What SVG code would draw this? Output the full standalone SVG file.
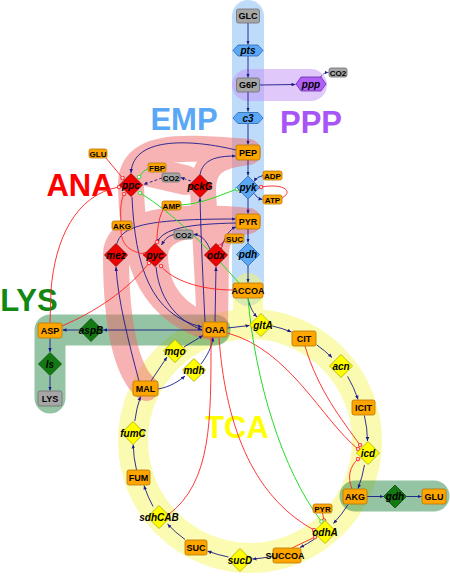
<svg xmlns="http://www.w3.org/2000/svg" width="450" height="576" viewBox="0 0 450 576">
<style>
.mb{fill:#ffa500;stroke:#b87700;stroke-width:0.8}
.gb{fill:#a6a6a6;stroke:#6e6e6e;stroke-width:0.8}
.mt{font-family:"Liberation Sans",Arial,sans-serif;font-weight:bold;font-size:9px;text-anchor:middle;fill:#000}
.st{font-size:8px}
.rt{font-family:"Liberation Sans",Arial,sans-serif;font-style:italic;font-weight:bold;font-size:10px;text-anchor:middle;fill:#000}
.rd{fill:#ee0000;stroke:#8a0000;stroke-width:0.8}
.bd{fill:#5aa8f6;stroke:#2c64b0;stroke-width:0.8}
.yd{fill:#ffff00;stroke:#a8a800;stroke-width:0.8}
.gd{fill:#137a13;stroke:#0a4a0a;stroke-width:0.8}
.pd{fill:#b060f6;stroke:#6a2aa8;stroke-width:0.8}
.lbl{font-family:"Liberation Sans",Arial,sans-serif;font-weight:bold;font-size:31px;text-anchor:middle}
.e{fill:none;stroke:#1a1a8a;stroke-width:0.9;marker-end:url(#a)}
.d{stroke-dasharray:3,2}
.i{fill:none;stroke:#ff2020;stroke-width:0.9;marker-end:url(#r)}
.v{fill:none;stroke:#22dd22;stroke-width:1;marker-end:url(#g)}
.band{fill:none;stroke-linecap:round;stroke-linejoin:round}
</style>
<defs>
<marker id="a" viewBox="0 0 8 8" refX="8" refY="4" markerWidth="4" markerHeight="4" orient="auto" markerUnits="userSpaceOnUse"><path d="M0,0.5 L8,4 L0,7.5z" fill="#1a1a8a"/></marker>
<marker id="r" viewBox="0 0 6 6" refX="3" refY="3" markerWidth="5" markerHeight="5" markerUnits="userSpaceOnUse"><circle cx="3" cy="3" r="2.2" fill="#ffd0d0" stroke="#ff2020" stroke-width="1.1"/></marker>
<marker id="g" viewBox="0 0 6 6" refX="3" refY="3" markerWidth="5" markerHeight="5" markerUnits="userSpaceOnUse"><circle cx="3" cy="3" r="2.2" fill="#ffffff" stroke="#22dd22" stroke-width="1.1"/></marker>
</defs>
<rect width="450" height="576" fill="#ffffff"/>
<g id="backgrounds">
<g opacity="0.5"><path class="band" d="M248,16 L248,290" stroke="#7db9f5" stroke-width="32"/></g>
<g opacity="0.5"><path class="band" d="M248,85 L311,85" stroke="#c391f5" stroke-width="32"/></g>
<g opacity="0.5"><circle cx="250" cy="441" r="117" fill="none" stroke="#f7f766" stroke-width="30"/><path class="band" d="M248,288 L248,320" stroke="#f7f766" stroke-width="30"/></g>
<g opacity="0.5"><path class="band" d="M50,398 L50,330 L215,330" stroke="#2a8a4a" stroke-width="31"/><path class="band" d="M355,496 L434,496" stroke="#2a8a4a" stroke-width="31"/></g>
<g opacity="0.5" stroke="#f06a6a" stroke-width="26">
<path class="band" d="M248,152 C190,148 131,140 131,185 C132,250 145,305 205,326"/>
<path class="band" d="M248,152 C215,156 203,165 203,190 L210,325"/>
<path class="band" d="M150,172 L185,180" stroke-width="30"/>
<path class="band" d="M248,221 C195,221 156,226 155,255 C155,295 180,318 210,327"/>
<path class="band" d="M248,221 C225,225 216,235 216,255 L215,325"/>
<path class="band" d="M248,221 C175,214 116,222 116,255 C116,320 125,370 146,388"/>
</g>
<text class="lbl" x="184" y="130" fill="#5aa8f5">EMP</text>
<text class="lbl" x="311" y="133" fill="#a855f7">PPP</text>
<text class="lbl" x="80" y="196" fill="#ff0000">ANA</text>
<text class="lbl" x="29" y="311" fill="#118811">LYS</text>
<text class="lbl" x="237" y="438" fill="#ffff00">TCA</text>
</g>
<g id="connectors">
<path class="e" d="M248,23 L248,44.5"/>
<path class="e" d="M248,56 L248,77.5"/>
<path class="e" d="M248,92 L248,111.5"/>
<path class="e" d="M248,124 L248,144.5"/>
<path class="e" d="M248,160 L248,175.5"/>
<path class="e" d="M248,199 L248,213.5"/>
<path class="e" d="M248,229 L248,242.5"/>
<path class="e" d="M248,266 L248,282.5"/>
<path class="e" d="M259.5,85 L295.5,84.5"/>
<path class="e d" d="M320,78 Q323,72.5 328.5,72.5"/>
<path class="e" d="M263,175.5 Q257,176.5 254,181.5"/>
<path class="e" d="M254,193.5 Q257,198.5 262.5,199.5"/>
<path class="e" d="M236,150 C195,140 133,135 131,173"/>
<path class="e" d="M132,197 C135,265 150,315 202,327"/>
<path class="e" d="M205,322 C203,280 201,240 200,198"/>
<path class="e" d="M200,174.5 C203,160 215,156 235.5,156"/>
<path class="e d" d="M162,178 L143.5,184.5"/>
<path class="e d" d="M191,181 L180.5,177.5"/>
<path class="e" d="M236,223 C190,224 162,228 157,243"/>
<path class="e" d="M156,267 C160,305 182,322 202,330"/>
<path class="e" d="M174,234.5 C168,236 165,239 161.5,245"/>
<path class="e" d="M215,322 L216,267"/>
<path class="e" d="M221,249 C225,236 230,229 236,227"/>
<path class="e" d="M210,249 C206,240 201,234.5 193.5,234.5"/>
<path class="e" d="M139,381 C128,340 118,300 116,267"/>
<path class="e" d="M117,243.5 C122,225 150,219 235.5,219"/>
<path class="e" d="M202.5,330 L103,330"/>
<path class="e" d="M79.5,330 L62.5,330"/>
<path class="e" d="M50,338.5 L50,352"/>
<path class="e" d="M50,376 L50,390.5"/>
<path class="e" d="M227.5,328 L249.5,325.5"/>
<path class="e" d="M248,298.5 C250,308 254,314 257,317"/>
<path class="e" d="M272.3,326 A117,117 0 0 1 291.5,332"/>
<path class="e" d="M316.6,344.8 A117,117 0 0 1 332,357.6"/>
<path class="e" d="M347.6,376.4 A117,117 0 0 1 358,399.5"/>
<path class="e" d="M364.4,415.5 A117,117 0 0 1 367.5,441"/>
<path class="e" d="M364.5,464.9 A117,117 0 0 1 358,488.5"/>
<path class="e" d="M348.1,504.5 A117,117 0 0 1 333.4,523.5"/>
<path class="e" d="M314.6,539 A117,117 0 0 1 300,547.5"/>
<path class="e" d="M273,556 A117,117 0 0 1 252.5,559"/>
<path class="e" d="M228.5,557 A117,117 0 0 1 207.5,551"/>
<path class="e" d="M185,539.5 A117,117 0 0 1 167.5,524"/>
<path class="e" d="M153,506.4 A117,117 0 0 1 144,485.5"/>
<path class="e" d="M136.5,470 A117,117 0 0 1 133.2,444.5"/>
<path class="e" d="M134.8,421 A117,117 0 0 1 140.5,396.5"/>
<path class="e" d="M151,381 L167,357"/>
<path class="e" d="M184,347 L203,335.5"/>
<path class="e" d="M158,389 C170,387 179,381 185,376"/>
<path class="e" d="M201,364 C207,356 212,347 213,337.5"/>
<path class="e" d="M367,496.5 L383.5,496.5"/>
<path class="e" d="M406.5,496.5 L421.5,496.5"/>
<path class="i" d="M106,158 L122.5,178"/>
<path class="i" d="M50,322.5 L51,290 C55,240 75,195 119,187"/>
<path class="i" d="M121,221 C120,210 121,200 124,194"/>
<path class="i" d="M121,229.5 C121,245 130,252 145,254"/>
<path class="i" d="M62,326 C95,312 128,290 149,263"/>
<path class="i" d="M233,290 C200,290 172,280 161,266"/>
<path class="i" d="M163,209.5 C158,220 157,232 157,242"/>
<path class="i" d="M226,240.5 Q221,242 220,246.5"/>
<path class="i" d="M281.5,198 C294,192 285,183 261,187"/>
<path class="i" d="M211,337.5 C211,420 212,482 168,515"/>
<path class="i" d="M219,337.5 C225,420 250,495 314,530"/>
<path class="i" d="M227.5,333 C290,350 322,420 358,449"/>
<path class="i" d="M305,346 C318,390 342,420 360,445"/>
<path class="i" d="M352,489 C347,477 350,466 358,459"/>
<path class="i" d="M322.5,513 L324,520.5"/>
<path class="i" d="M292,548 L315,537"/>
<path class="v" d="M149,168 Q143,170 139,177"/>
<path class="v" d="M239,283 C210,250 172,212 140,193"/>
<path class="v" d="M180.5,205 C200,204 216,197 237,189"/>
<path class="v" d="M248,298.5 C255,380 282,470 321.5,521.5"/>
</g>
<g id="GLC"><rect class="gb" x="236.5" y="9" width="23" height="14" rx="2"/><text class="mt" x="248" y="19.2">GLC</text></g>
<g id="pts"><polygon class="bd" points="233,50.5 238,45 258,45 263,50.5 258,56 238,56"/><text class="rt" x="248" y="54">pts</text></g>
<g id="G6P"><rect class="gb" x="236.5" y="78" width="23" height="14" rx="2"/><text class="mt" x="248" y="88.2">G6P</text></g>
<g id="ppp"><polygon class="pd" points="296,84 301,77 321,77 326,84 321,91 301,91"/><text class="rt" x="311" y="87.5">ppp</text></g>
<g id="CO2_ppp"><rect class="gb" x="329" y="68" width="18" height="9" rx="2"/><text class="mt st" x="338" y="75.5">CO2</text></g>
<g id="c3"><polygon class="bd" points="233,118 238,112.5 258,112.5 263,118 258,123.5 238,123.5"/><text class="rt" x="248" y="121.5">c3</text></g>
<g id="PEP"><rect class="mb" x="236" y="145" width="24" height="15" rx="2"/><text class="mt" x="248" y="155.7">PEP</text></g>
<g id="pyk"><polygon class="bd" points="248,176 259.5,187.5 248,199 236.5,187.5"/><text class="rt" x="248" y="191">pyk</text></g>
<g id="ADP"><rect class="mb" x="263" y="171" width="19" height="9" rx="2"/><text class="mt st" x="272.5" y="178.5">ADP</text></g>
<g id="ATP"><rect class="mb" x="263" y="195" width="19" height="9" rx="2"/><text class="mt st" x="272.5" y="202.5">ATP</text></g>
<g id="PYR"><rect class="mb" x="236" y="214" width="24" height="15" rx="2"/><text class="mt" x="248" y="224.7">PYR</text></g>
<g id="pdh"><polygon class="bd" points="248,243 259.5,254.5 248,266 236.5,254.5"/><text class="rt" x="248" y="258">pdh</text></g>
<g id="ACCOA"><rect class="mb" x="233" y="283" width="30" height="15" rx="2"/><text class="mt" x="248" y="293.7">ACCOA</text></g>
<g id="GLU_ana"><rect class="mb" x="89" y="149" width="18" height="9" rx="2"/><text class="mt st" x="98" y="156.5">GLU</text></g>
<g id="FBP"><rect class="mb" x="148" y="163" width="18" height="9" rx="2"/><text class="mt st" x="157" y="170.5">FBP</text></g>
<g id="CO2_ppc"><rect class="gb" x="162" y="173" width="18" height="9" rx="2"/><text class="mt st" x="171" y="180.5">CO2</text></g>
<g id="AMP"><rect class="mb" x="162" y="201" width="19" height="9" rx="2"/><text class="mt st" x="171.5" y="208.5">AMP</text></g>
<g id="AKG_ana"><rect class="mb" x="112" y="221" width="20" height="9" rx="2"/><text class="mt st" x="122" y="228.5">AKG</text></g>
<g id="CO2_pyc"><rect class="gb" x="174" y="230" width="19" height="9" rx="2"/><text class="mt st" x="183.5" y="237.5">CO2</text></g>
<g id="SUC_ana"><rect class="mb" x="225" y="234" width="19" height="9" rx="2"/><text class="mt st" x="234.5" y="241.5">SUC</text></g>
<g id="ppc"><polygon class="rd" points="131,173.5 142.5,185 131,196.5 119.5,185"/><text class="rt" x="131" y="188.5">ppc</text></g>
<g id="pckG"><polygon class="rd" points="200,174.5 211.5,186 200,197.5 188.5,186"/><text class="rt" x="200" y="189.5">pckG</text></g>
<g id="mez"><polygon class="rd" points="116,243.5 127.5,255 116,266.5 104.5,255"/><text class="rt" x="116" y="258.5">mez</text></g>
<g id="pyc"><polygon class="rd" points="155,243.5 166.5,255 155,266.5 143.5,255"/><text class="rt" x="155" y="258.5">pyc</text></g>
<g id="odx"><polygon class="rd" points="216,243.5 227.5,255 216,266.5 204.5,255"/><text class="rt" x="216" y="258.5">odx</text></g>
<g id="OAA"><rect class="mb" x="203" y="322" width="24" height="15" rx="2"/><text class="mt" x="215" y="332.7">OAA</text></g>
<g id="ASP"><rect class="mb" x="38" y="323" width="24" height="15" rx="2"/><text class="mt" x="50" y="333.7">ASP</text></g>
<g id="aspB"><polygon class="gd" points="91,318.5 102.5,330 91,341.5 79.5,330"/><text class="rt" x="91" y="333.5">aspB</text></g>
<g id="ls"><polygon class="gd" points="50,352.5 61.5,364 50,375.5 38.5,364"/><text class="rt" x="50" y="367.5">ls</text></g>
<g id="LYS"><rect class="gb" x="38" y="391" width="24" height="15" rx="2"/><text class="mt" x="50" y="401.7">LYS</text></g>
<g id="gltA"><polygon class="yd" points="261,313.5 272.5,325 261,336.5 249.5,325"/><text class="rt" x="263" y="328.5">gltA</text></g>
<g id="CIT"><rect class="mb" x="292" y="331" width="24" height="15" rx="2"/><text class="mt" x="304" y="341.7">CIT</text></g>
<g id="acn"><polygon class="yd" points="341,354.5 352.5,366 341,377.5 329.5,366"/><text class="rt" x="341" y="369.5">acn</text></g>
<g id="ICIT"><rect class="mb" x="352" y="400" width="23" height="15" rx="2"/><text class="mt" x="363.5" y="410.7">ICIT</text></g>
<g id="icd"><polygon class="yd" points="368,441.5 379.5,453 368,464.5 356.5,453"/><text class="rt" x="368" y="456.5">icd</text></g>
<g id="AKG"><rect class="mb" x="343" y="489" width="24" height="15" rx="2"/><text class="mt" x="355" y="499.7">AKG</text></g>
<g id="gdh"><polygon class="gd" points="395,485 406.5,496.5 395,508 383.5,496.5"/><text class="rt" x="395" y="500">gdh</text></g>
<g id="GLU"><rect class="mb" x="422" y="489" width="24" height="15" rx="2"/><text class="mt" x="434" y="499.7">GLU</text></g>
<g id="PYR_tca"><rect class="mb" x="313" y="504" width="19" height="9" rx="2"/><text class="mt st" x="322.5" y="511.5">PYR</text></g>
<g id="odhA"><polygon class="yd" points="325,520.5 336.5,532 325,543.5 313.5,532"/><text class="rt" x="325" y="535.5">odhA</text></g>
<g id="SUCCOA"><rect class="mb" x="273" y="548" width="28" height="15" rx="2"/><text class="mt" x="285" y="558.7">SUCCOA</text></g>
<g id="sucD"><polygon class="yd" points="240,548.5 251.5,560 240,571.5 228.5,560"/><text class="rt" x="240" y="563.5">sucD</text></g>
<g id="SUC"><rect class="mb" x="185" y="540" width="22" height="15" rx="2"/><text class="mt" x="196" y="550.7">SUC</text></g>
<g id="sdhCAB"><polygon class="yd" points="159,505.5 170.5,517 159,528.5 147.5,517"/><text class="rt" x="159" y="520.5">sdhCAB</text></g>
<g id="FUM"><rect class="mb" x="127" y="470" width="23" height="15" rx="2"/><text class="mt" x="138.5" y="480.7">FUM</text></g>
<g id="fumC"><polygon class="yd" points="133,421.5 144.5,433 133,444.5 121.5,433"/><text class="rt" x="133" y="436.5">fumC</text></g>
<g id="MAL"><rect class="mb" x="133" y="381" width="25" height="15" rx="2"/><text class="mt" x="145.5" y="391.7">MAL</text></g>
<g id="mqo"><polygon class="yd" points="175,339.5 186.5,351 175,362.5 163.5,351"/><text class="rt" x="175" y="354.5">mqo</text></g>
<g id="mdh"><polygon class="yd" points="194,358.5 205.5,370 194,381.5 182.5,370"/><text class="rt" x="194" y="373.5">mdh</text></g>
</svg>
